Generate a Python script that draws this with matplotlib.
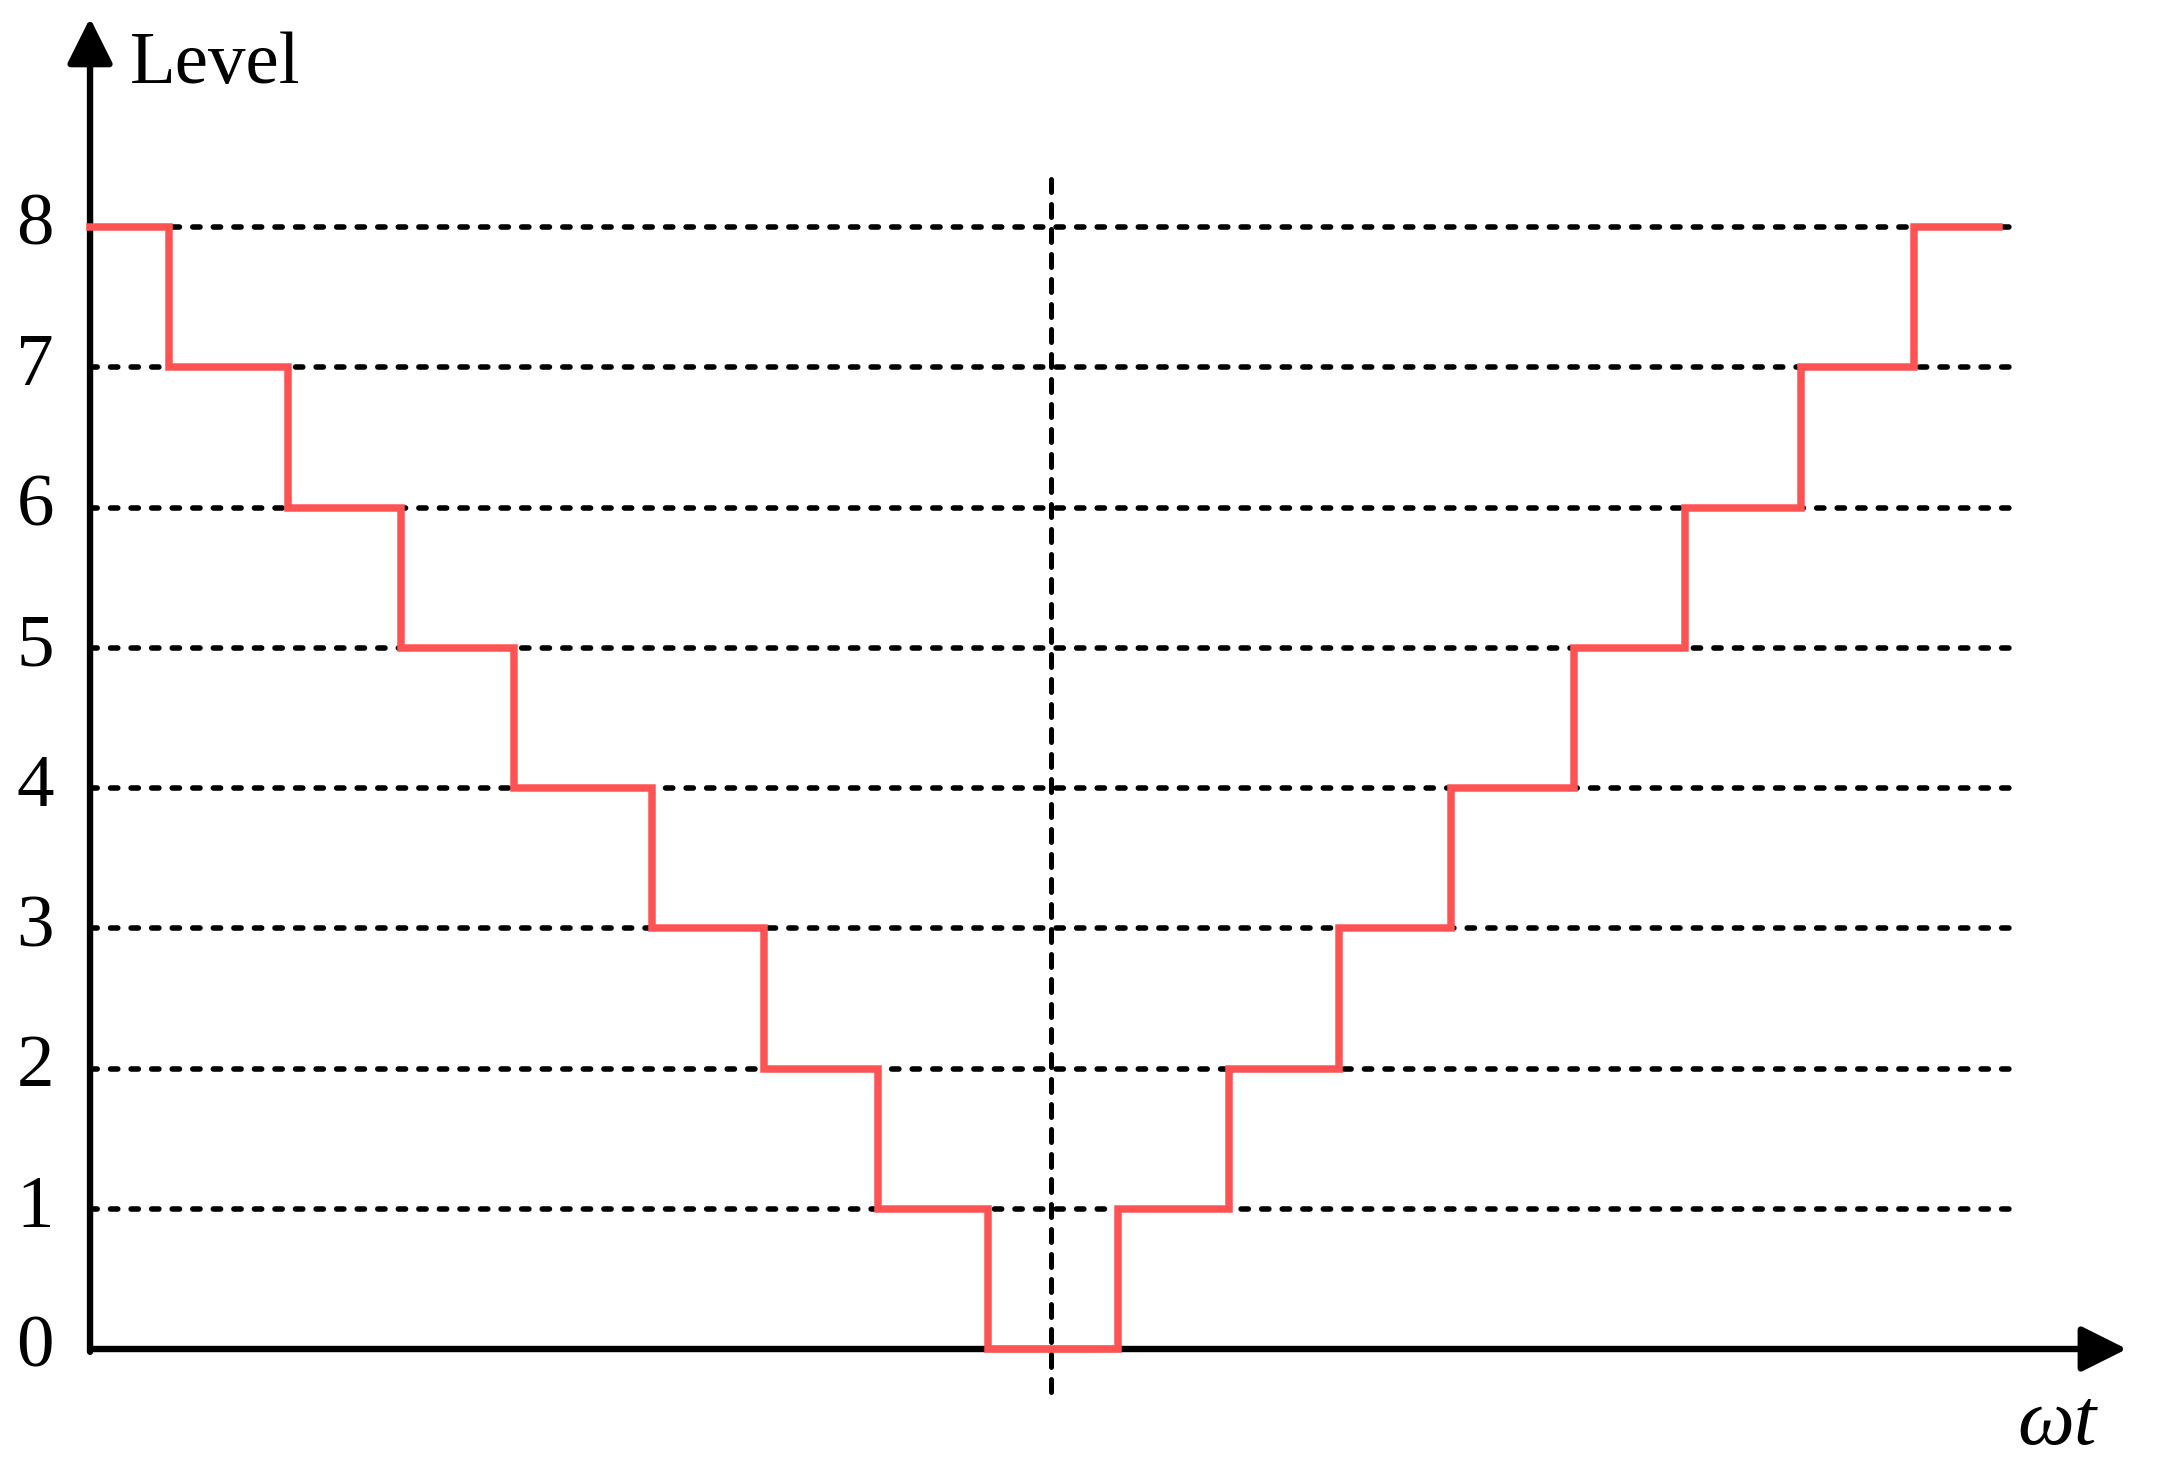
import numpy as np
import matplotlib
matplotlib.use('Agg')
import matplotlib.pyplot as plt

plt.rcParams['font.family'] = ['Liberation Serif', 'DejaVu Serif']

# switching angles (deg) and the level held after each one
switch_angles = [0, 7.4, 18.5, 29.1, 39.7, 52.6, 63.1, 73.8, 84.1,
                 96.2, 106.6, 116.9, 127.4, 138.9, 149.3, 160.2, 170.8, 178.7]
levels = [8, 7, 6, 5, 4, 3, 2, 1, 0, 1, 2, 3, 4, 5, 6, 7, 8, 8]
level_ticks = [0, 1, 2, 3, 4, 5, 6, 7, 8]
half_period = 180
center_angle = 90

fig = plt.figure(figsize=(21.61, 14.72), dpi=100)
ax = fig.add_axes([0, 0, 1, 1])
ax.set_xlim(-8.43, 193.9)
ax.set_ylim(-0.877, 9.619)
ax.axis('off')

# dotted level lines
for lv in level_ticks[1:]:
    ax.plot([0, half_period], [lv, lv], color='k', lw=4.0,
            linestyle=(0, (1.3, 2.4)), dash_capstyle='round', zorder=1)

# dashed line at the centre
ax.plot([center_angle, center_angle], [-0.31, 8.42], color='k', lw=3.6,
        linestyle=(0, (2.6, 2.4)), dash_capstyle='round', zorder=1)

# axes with arrows
ax.annotate('', xy=(190.7, 0), xytext=(0, 0),
            arrowprops=dict(arrowstyle='-|>,head_length=28,head_width=14',
                            mutation_scale=1, lw=4.6, color='k',
                            shrinkA=0, shrinkB=0), zorder=2)
ax.annotate('', xy=(0, 9.49), xytext=(0, -0.02),
            arrowprops=dict(arrowstyle='-|>,head_length=28,head_width=14',
                            mutation_scale=1, lw=4.6, color='k',
                            shrinkA=0, shrinkB=0), zorder=2)

# staircase waveform (drawn over the axis)
ax.step(switch_angles, levels, where='post', color='#ff5252', lw=5.4,
        solid_joinstyle='miter', zorder=5)

# tick labels
for lv in level_ticks:
    ax.text(-5.15, lv, str(lv), ha='center', va='center', fontsize=54)

ax.text(3.75, 9.03, 'Level', ha='left', va='baseline', fontsize=54)
ax.text(184.2, -0.68, 'ωt', ha='center', va='baseline', fontsize=58,
        fontstyle='italic')

plt.savefig('out.png', dpi=100)
